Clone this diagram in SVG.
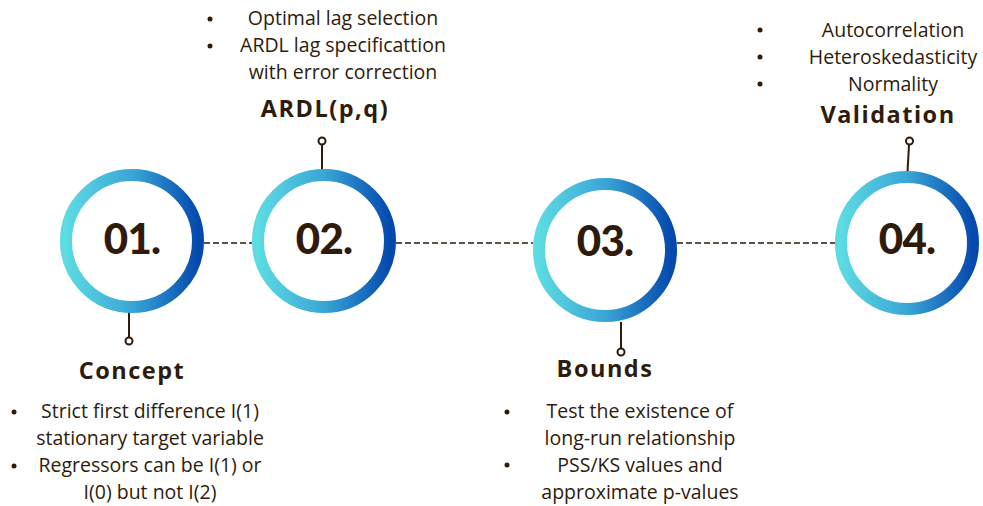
<svg xmlns="http://www.w3.org/2000/svg" width="983" height="506" viewBox="0 0 983 506">
<defs>
<linearGradient id="ring" x1="0" y1="0" x2="1" y2="0">
<stop offset="0" stop-color="#5cdbe2"/>
<stop offset="0.5" stop-color="#3aa6d6"/>
<stop offset="1" stop-color="#0549ae"/>
</linearGradient>
<style>
.ring{fill:#fff;stroke:url(#ring);stroke-width:12}
.num{font-family:Lato,"Liberation Sans",sans-serif;font-weight:900;font-size:42px;fill:#2e1b0b;text-anchor:middle;letter-spacing:-0.8px}
.title{font-family:"Open Sans","Liberation Sans",sans-serif;font-weight:700;font-size:23.5px;fill:#2e1b0b;text-anchor:middle;letter-spacing:1.5px}
.body{font-family:"Open Sans","Liberation Sans",sans-serif;font-size:19.5px;fill:#2e1b0b;text-anchor:middle}
.dot{fill:#2e1b0b}
.stem{stroke:#2e1b0b;stroke-width:2;fill:none}
.pin{fill:#fff;stroke:#2e1b0b;stroke-width:2}
.dash{stroke:#2e1b0b;stroke-width:1.6;stroke-dasharray:6 3;fill:none}
</style>
</defs>
<g id="connectors">
<line class="dash" x1="204" y1="243" x2="252" y2="243"/>
<line class="dash" x1="396" y1="243" x2="533" y2="243"/>
<line class="dash" x1="677" y1="243" x2="835" y2="243"/>
</g>
<g id="node1">
<line class="stem" x1="129" y1="312" x2="129" y2="337"/>
<circle class="pin" cx="129" cy="341" r="3.5"/>
<circle class="ring" cx="132" cy="241" r="66"/>
<text class="num" x="132" y="254">01.</text>
<text class="title" x="132" y="379">Concept</text>
<circle class="dot" cx="14" cy="412" r="2.5"/>
<text class="body" x="150" y="418">Strict first difference I(1)</text>
<text class="body" x="150" y="445">stationary target variable</text>
<circle class="dot" cx="14" cy="466" r="2.5"/>
<text class="body" x="150" y="472">Regressors can be I(1) or</text>
<text class="body" x="150" y="499">I(0) but not I(2)</text>
</g>
<g id="node2">
<line class="stem" x1="322" y1="145" x2="322" y2="170"/>
<circle class="pin" cx="322" cy="141" r="3.5"/>
<circle class="ring" cx="324" cy="241" r="66"/>
<text class="num" x="324" y="254">02.</text>
<text class="title" x="325" y="117">ARDL(p,q)</text>
<circle class="dot" cx="210" cy="19" r="2.5"/>
<text class="body" x="343" y="25">Optimal lag selection</text>
<circle class="dot" cx="210" cy="46" r="2.5"/>
<text class="body" x="343" y="52">ARDL lag specificattion</text>
<text class="body" x="343" y="79">with error correction</text>
</g>
<g id="node3">
<line class="stem" x1="621" y1="322" x2="621" y2="348"/>
<circle class="pin" cx="621" cy="352" r="3.5"/>
<circle class="ring" cx="605" cy="250" r="66"/>
<text class="num" x="605" y="256">03.</text>
<text class="title" x="605" y="377">Bounds</text>
<circle class="dot" cx="507" cy="412" r="2.5"/>
<text class="body" x="640" y="418">Test the existence of</text>
<text class="body" x="640" y="445">long-run relationship</text>
<circle class="dot" cx="507" cy="465" r="2.5"/>
<text class="body" x="640" y="472">PSS/KS values and</text>
<text class="body" x="640" y="499">approximate p-values</text>
</g>
<g id="node4">
<line class="stem" x1="907" y1="181" x2="909" y2="145"/>
<circle class="pin" cx="909.5" cy="141" r="3.5"/>
<circle class="ring" cx="907" cy="243" r="66"/>
<text class="num" x="907" y="254">04.</text>
<text class="title" x="888" y="123">Validation</text>
<circle class="dot" cx="760" cy="30" r="2.5"/>
<text class="body" x="893" y="37">Autocorrelation</text>
<circle class="dot" cx="760" cy="57" r="2.5"/>
<text class="body" x="893" y="64">Heteroskedasticity</text>
<circle class="dot" cx="760" cy="84" r="2.5"/>
<text class="body" x="893" y="91">Normality</text>
</g>
</svg>
